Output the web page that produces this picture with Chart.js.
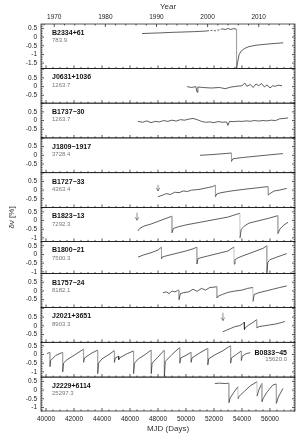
<!DOCTYPE html>
<html>
<head>
<meta charset="utf-8">
<script src="https://cdn.jsdelivr.net/npm/chart.js@4.4.1/dist/chart.umd.min.js"></script>
<style>
    html, body { margin: 0; padding: 0; background: #fff; }
</style>
</head>
<body>
<canvas id="glitchChart" width="303" height="436"></canvas>
<script>
// panels, top to bottom
const pulsarNames = ['B2334+61', 'J0631+1036', 'B1737\u221230', 'J1809\u22121917', 'B1727\u221233', 'B1823\u221213',
    'B1800\u221221', 'B1757\u221224', 'J2021+3651', 'B0833\u221245', 'J2229+6114'];
const pulsarRates = ['783.9', '1263.7', '1263.7', '3728.4', '4363.4', '7292.3', '7500.3', '8182.1', '8903.3', '15620.0', '25297.3'];
const panelMin = [-1.8, -0.95, -1, -1, -1, -1.2, -1.1, -0.95, -0.95, -1.3, -1.2];
const panelMax = [0.75, 1.05, 1, 1, 1, 0.75, 0.75, 1.0, 1.05, 0.7, 0.75];
const panelTicks = [[0.5, 0, -0.5, -1, -1.5], [0.5, 0, -0.5], [0.5, 0, -0.5], [0.5, 0, -0.5], [0.5, 0, -0.5],
    [0.5, 0, -0.5, -1], [0.5, 0, -0.5, -1], [0.5, 0, -0.5], [0.5, 0, -0.5], [0.5, 0, -0.5, -1], [0.5, 0, -0.5, -1]];

const mjdTicks = [40000, 42000, 44000, 46000, 48000, 50000, 52000, 54000, 56000];
const yearTicks = [1970, 1980, 1990, 2000, 2010];
const yearMjd = [40587, 44239, 47892, 51544, 55197];

// glitch arrows: panel index, MJD, arrow top and tip in %
const arrowPanel = [4, 5, 8];
const arrowMjd = [48000, 46500, 52640];
const arrowTop = [0.3, 0.45, 0.75];
const arrowTip = [-0.05, 0.02, 0.3];

// delta nu-dot [%] per pulsar
const b2334Mjd = [46860, 47500, 48200, 49000, 49800, 50600, 51300, 51500, 51800, 52100, 52400, 52600, 52800, 53000, 53200, 53400, 53600, 53615, 53700, 53800, 53950, 54200, 54500, 55000, 55500, 56000, 56500, 56950];
const b2334Dnu = [0.2, 0.22, 0.24, 0.27, 0.29, 0.31, 0.34, 0.35, 0.38, 0.36, 0.42, 0.47, 0.43, 0.49, 0.44, 0.48, 0.46, -1.8, -1.4, -1.0, -0.8, -0.65, -0.55, -0.47, -0.43, -0.39, -0.36, -0.33];

const j0631Mjd = [50070, 50400, 50700, 50790, 50850, 51200, 51800, 52400, 52800, 53200, 53600, 54000, 54200, 54350, 54600, 54800, 55000, 55200, 55400, 55600, 55800, 56000, 56200, 56400, 56600, 56860];
const j0631Dnu = [0.0, -0.05, 0.0, -0.32, -0.02, -0.05, -0.08, -0.05, -0.12, -0.03, 0.02, 0.05, 0.2, 0.02, 0.12, -0.05, 0.15, 0.05, 0.18, -0.02, 0.1, -0.08, 0.05, 0.02, 0.08, 0.05];

const b1737Mjd = [46570, 46900, 47200, 47500, 47800, 48100, 48400, 48700, 49000, 49300, 49600, 49900, 50200, 50500, 50800, 51100, 51400, 51700, 52000, 52300, 52600, 52900, 53000, 53100, 53400, 53700, 54000, 54300, 54600, 54900, 55200, 55500, 55800, 56100, 56400, 56700, 57000, 57290];
const b1737Dnu = [-0.05, -0.1, -0.02, -0.12, -0.05, -0.08, 0.0, -0.05, 0.02, -0.03, 0.05, 0.02, 0.08, 0.12, 0.05, -0.05, -0.1, -0.08, -0.12, -0.06, -0.1, -0.08, -0.28, -0.05, -0.06, -0.04, -0.05, -0.02, -0.04, 0.0, -0.03, 0.0, -0.02, 0.02, 0.0, 0.1, 0.12, 0.15];

const j1809Mjd = [51000, 52000, 53250, 53251, 53350, 54000, 55000, 56000, 56930];
const j1809Dnu = [0.0, 0.05, 0.13, -0.35, -0.2, -0.13, -0.05, 0.03, 0.1];

const b1727Mjd = [47990, 48300, 48600, 48900, 49200, 49500, 49800, 50100, 50400, 50700, 51000, 51300, 51600, 51900, 52100, 52107, 52200, 52500, 53000, 53500, 54000, 54500, 55000, 55500, 55870, 55875, 56000, 56300, 56700, 57200];
const b1727Dnu = [-0.38, -0.3, -0.2, -0.25, -0.12, -0.15, -0.05, -0.08, 0.0, 0.02, 0.05, 0.1, 0.15, 0.2, 0.28, -0.38, -0.22, -0.15, -0.08, -0.02, 0.03, 0.08, 0.12, 0.17, 0.2, -0.28, -0.2, -0.05, 0.0, 0.1];

const b1823Mjd = [46570, 46700, 47000, 47500, 48000, 48500, 48990, 49000, 49100, 49500, 50000, 51000, 52000, 53000, 53850, 53860, 53950, 54200, 54500, 55000, 55500, 56000, 56560, 56570, 56700, 57000, 57290];
const b1823Dnu = [-0.6, -0.45, -0.32, -0.2, -0.05, 0.1, 0.25, -0.7, -0.45, -0.35, -0.25, -0.1, 0.05, 0.2, 0.42, -1.0, -0.5, -0.3, -0.15, -0.05, 0.05, 0.15, 0.28, -0.75, -0.5, -0.25, -0.1];

const b1800Mjd = [46570, 47000, 47500, 48000, 48245, 48250, 48300, 48500, 49000, 49500, 50000, 50500, 50777, 50782, 50850, 51000, 51500, 52000, 52500, 53000, 53429, 53434, 53500, 53700, 54000, 54500, 55000, 55500, 55775, 55780, 55850, 56000, 56500, 57200];
const b1800Dnu = [-0.15, -0.02, 0.1, 0.25, 0.42, -0.25, -0.15, -0.1, 0.0, 0.1, 0.2, 0.32, 0.42, -0.55, -0.25, -0.2, -0.1, 0.0, 0.1, 0.2, 0.43, -0.55, -0.3, -0.2, -0.1, 0.05, 0.2, 0.35, 0.5, -1.1, -0.45, -0.3, -0.15, 0.05];

const b1757Mjd = [48360, 48600, 48800, 49000, 49200, 49400, 49490, 49500, 49600, 49800, 50200, 50500, 50800, 51100, 51400, 51700, 52000, 52200, 52210, 52300, 52600, 53000, 53500, 54000, 54400, 54780, 54790, 54870, 55200, 55700, 56200, 56700, 57200];
const b1757Dnu = [-0.1, -0.05, -0.15, 0.0, -0.05, 0.02, 0.05, -0.5, -0.15, -0.1, -0.05, 0.1, -0.02, 0.15, 0.05, 0.2, 0.22, 0.25, -0.4, -0.3, -0.2, -0.08, 0.0, 0.05, 0.15, 0.2, -0.6, -0.2, -0.1, 0.0, 0.1, 0.2, 0.29];

const j2021Mjd = [52630, 52900, 53200, 53500, 53800, 54000, 54150, 54180, 54250, 54500, 54800, 55050, 55060, 55200, 55600, 56000, 56400, 56800, 57070];
const j2021Dnu = [-0.35, -0.25, -0.15, -0.05, 0.0, 0.08, 0.2, -0.22, -0.1, 0.05, 0.2, 0.35, -0.12, -0.05, 0.0, 0.05, 0.1, 0.18, 0.25];

const b0833Mjd = [40070, 40270, 40280, 40330, 40700, 41180, 41192, 41250, 41500, 42000, 42670, 42683, 42750, 43200, 43680, 43693, 43750, 44000, 44500,
    44880, 44888, 44950, 45185, 45192, 45250, 45800, 46250, 46257, 46320, 46600, 47000, 47510, 47519, 47580, 48000, 48450, 48457, 48520,
    49000, 49550, 49559, 49620, 50000, 50360, 50369, 50430, 51000, 51550, 51559, 51620, 52000, 52600, 53185, 53193, 53250, 53600, 53950,
    53959, 54020, 54300, 54600];
const b0833Dnu = [0.05, 0.12, -0.7, -0.35, -0.05, 0.12, -1.0, -0.5, -0.3, -0.05, 0.3, -0.45, -0.2, 0.05, 0.25, -1.1, -0.5, -0.25, 0.0,
    0.22, -0.45, -0.2, -0.1, -0.3, -0.2, 0.05, 0.2, -1.1, -0.5, -0.25, -0.05, 0.25, -1.1, -0.5, -0.15, 0.25, -1.25, -0.4,
    0.0, 0.4, -0.5, -0.2, -0.05, 0.12, -0.45, -0.2, 0.1, 0.35, -0.6, -0.25, -0.05, 0.2, 0.5, -0.5, -0.2, 0.0, 0.2,
    -0.35, -0.1, 0.05, 0.1];

const j2229Mjd = [52070, 52400, 52800, 53060, 53070, 53150, 53400, 53710, 53720, 53800, 54200, 54600, 55070, 55080, 55200, 55420, 55430, 55500, 55800, 56200, 56450, 56460, 56600, 56930];
const j2229Dnu = [0.38, 0.4, 0.38, 0.4, -0.72, -0.45, -0.15, 0.19, -0.5, -0.35, -0.05, 0.25, 0.48, -0.35, 0.0, 0.38, -0.67, -0.5, -0.1, 0.29, 0.35, -0.76, -0.4, 0.1];

const panelMjd = [b2334Mjd, j0631Mjd, b1737Mjd, j1809Mjd, b1727Mjd, b1823Mjd, b1800Mjd, b1757Mjd, j2021Mjd, b0833Mjd, j2229Mjd];
const panelDnu = [b2334Dnu, j0631Dnu, b1737Dnu, j1809Dnu, b1727Dnu, b1823Dnu, b1800Dnu, b1757Dnu, j2021Dnu, b0833Dnu, j2229Dnu];

const mjdMin = 39640;
const mjdMax = 57790;
const fontFamily = "'Liberation Sans', Arial, sans-serif";

// the jump at a glitch is drawn as a thin grey stroke
function isGlitchJump(ctx) {
    return Math.abs(ctx.p1.parsed.x - ctx.p0.parsed.x) < 30 && Math.abs(ctx.p1.parsed.y - ctx.p0.parsed.y) > 0.2;
}

const datasets = pulsarNames.map((name, i) => ({
    label: name,
    data: panelMjd[i].map((m, j) => ({ x: m, y: panelDnu[i][j] })),
    xAxisID: 'x',
    yAxisID: 'y' + i,
    borderColor: '#2a2a2a',
    borderWidth: 0.75,
    pointRadius: 0,
    tension: 0,
    fill: false,
    segment: {
        borderColor: ctx => isGlitchJump(ctx) ? '#9a9a9a' : undefined,
        borderWidth: ctx => isGlitchJump(ctx) ? 0.6 : undefined,
        borderDash: ctx => (i === 0 && ctx.p0.parsed.x >= 51500 && ctx.p1.parsed.x <= 52600) ? [2, 1.5] : undefined
    }
}));

const scales = {
    x: {
        type: 'linear',
        position: 'bottom',
        min: mjdMin,
        max: mjdMax,
        grid: { display: false, drawTicks: false },
        border: { display: false },
        afterBuildTicks: (s) => { s.ticks = mjdTicks.map(v => ({ value: v })); },
        afterFit: (s) => { s.height = 25; },
        ticks: {
            autoSkip: false, maxRotation: 0, padding: 4, color: '#222',
            font: { family: fontFamily, size: 6.5 },
            callback: (v) => String(v)
        },
        title: {
            display: true, text: 'MJD (Days)', color: '#333',
            font: { family: fontFamily, size: 8 }, padding: { top: 0, bottom: 2 }
        }
    },
    xTop: {
        type: 'linear',
        position: 'top',
        min: mjdMin,
        max: mjdMax,
        grid: { display: false, drawTicks: false },
        border: { display: false },
        afterBuildTicks: (s) => { s.ticks = yearMjd.map(v => ({ value: v })); },
        afterFit: (s) => { s.height = 24; },
        ticks: {
            autoSkip: false, maxRotation: 0, padding: 3, color: '#222',
            font: { family: fontFamily, size: 6.5 },
            callback: (v, idx) => String(yearTicks[idx])
        },
        title: {
            display: true, text: 'Year', color: '#333',
            font: { family: fontFamily, size: 8 }, padding: { top: 2, bottom: 0 }
        }
    }
};

pulsarNames.forEach((name, i) => {
    scales['y' + i] = {
        type: 'linear',
        position: 'left',
        stack: 'panels',
        stackWeight: panelMax[i] - panelMin[i],
        weight: pulsarNames.length - i,
        min: panelMin[i],
        max: panelMax[i],
        grid: { display: false, drawTicks: false },
        border: { display: false },
        afterBuildTicks: (s) => { s.ticks = panelTicks[i].map(v => ({ value: v })); },
        afterFit: (s) => { s.width = 41; },
        ticks: {
            autoSkip: false, padding: 4, color: '#222',
            font: { family: fontFamily, size: 6.5 },
            callback: (v) => String(v)
        }
    };
});

function strokeLine(ctx, x1, y1, x2, y2) {
    ctx.beginPath();
    ctx.moveTo(x1, y1);
    ctx.lineTo(x2, y2);
    ctx.stroke();
}

// panel frames, inward ticks, pulsar labels, arrows, y title
const panelPlugin = {
    id: 'panelFrames',
    afterDraw(chart) {
        const ctx = chart.ctx;
        const area = chart.chartArea;
        const xs = chart.scales.x;
        ctx.save();
        ctx.strokeStyle = '#111';
        ctx.lineWidth = 0.7;

        pulsarNames.forEach((name, i) => {
            const s = chart.scales['y' + i];
            ctx.strokeRect(area.left, s.top, area.right - area.left, s.bottom - s.top);

            for (let k = Math.ceil(s.min * 10); k <= Math.floor(s.max * 10); k++) {
                const py = s.getPixelForValue(k / 10);
                const len = k % 5 === 0 ? 3 : 1.5;
                strokeLine(ctx, area.left, py, area.left + len, py);
                strokeLine(ctx, area.right, py, area.right - len, py);
            }
            for (let m = Math.ceil(mjdMin / 500) * 500; m <= mjdMax; m += 500) {
                const px = xs.getPixelForValue(m);
                const len = m % 2000 === 0 ? 3 : 1.5;
                strokeLine(ctx, px, s.bottom, px, s.bottom - len);
            }

            ctx.fillStyle = '#111';
            ctx.textBaseline = 'middle';
            ctx.font = 'bold 7px ' + fontFamily;
            if (i === 9) {
                ctx.textAlign = 'right';
                ctx.fillText(name, area.right - 8, s.top + 11);
                ctx.font = '6px ' + fontFamily;
                ctx.fillStyle = '#777';
                ctx.fillText(pulsarRates[i], area.right - 8, s.top + 17.5);
            } else {
                ctx.textAlign = 'left';
                ctx.fillText(name, area.left + 11, s.top + 9);
                ctx.font = '6px ' + fontFamily;
                ctx.fillStyle = '#777';
                ctx.fillText(pulsarRates[i], area.left + 11, s.top + 16.5);
            }
        });

        // year ticks along the top
        for (let yr = 1968; yr <= 2016; yr += 2) {
            const px = xs.getPixelForValue(40587 + (yr - 1970) * 365.25);
            if (px < area.left || px > area.right) continue;
            const len = yr % 10 === 0 ? 3 : 1.5;
            strokeLine(ctx, px, area.top, px, area.top + len);
        }

        // glitch arrows
        ctx.strokeStyle = '#444';
        ctx.lineWidth = 0.6;
        arrowPanel.forEach((p, j) => {
            const s = chart.scales['y' + p];
            const px = xs.getPixelForValue(arrowMjd[j]);
            const y1 = s.getPixelForValue(arrowTop[j]);
            const y2 = s.getPixelForValue(arrowTip[j]);
            strokeLine(ctx, px, y1, px, y2);
            strokeLine(ctx, px - 1.8, y2 - 3, px, y2);
            strokeLine(ctx, px + 1.8, y2 - 3, px, y2);
        });

        // y axis title
        ctx.fillStyle = '#333';
        ctx.font = '8px ' + fontFamily;
        ctx.textAlign = 'center';
        ctx.textBaseline = 'middle';
        ctx.translate(12, (area.top + area.bottom) / 2);
        ctx.rotate(-Math.PI / 2);
        ctx.fillText('\u03b4\u03bd\u0307 [%]', 0, 0);
        ctx.restore();
    }
};

new Chart(document.getElementById('glitchChart'), {
    type: 'line',
    data: { datasets: datasets },
    options: {
        responsive: false,
        animation: false,
        layout: { padding: { left: 0, right: 8, top: 0, bottom: 0 } },
        plugins: { legend: { display: false }, tooltip: { enabled: false } },
        scales: scales
    },
    plugins: [panelPlugin]
});
</script>
</body>
</html>
